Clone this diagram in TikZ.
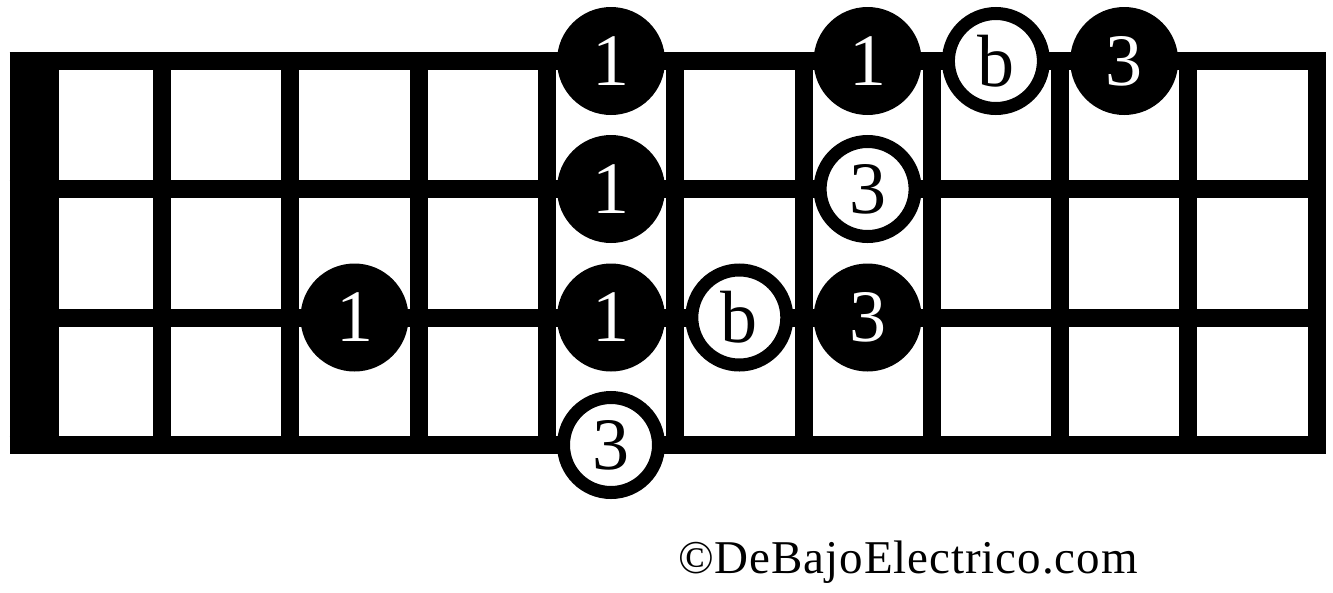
\documentclass[tikz,border=0pt]{standalone}
\usepackage{fontspec}
\setmainfont{Liberation Serif}
\newfontfamily\copyfont[LetterSpace=2]{Liberation Serif}
\begin{document}
\begin{tikzpicture}[x=1pt,y=-1pt,
  fdot/.style={circle,fill=black,inner sep=0pt,minimum size=108pt,text=white,font=\fontsize{74}{80}\selectfont},
  odot/.style={circle,draw=black,line width=13pt,fill=white,inner sep=0pt,minimum size=95pt,text=black,font=\fontsize{74}{80}\selectfont},
  gridline/.style={line width=18pt}]
\useasboundingbox (0,0) rectangle (1333,592);
% strings
\foreach \y in {61,189,317.5,445} \draw[gridline] (9.5,\y) -- (1325.7,\y);
% frets
\foreach \k in {1,...,10} \draw[gridline] ({33.7+128.3*\k},52) -- ({33.7+128.3*\k},454);
% nut
\fill (9.5,52) rectangle (59,454);
% dots
\node[fdot] (a1) at (611,61) {1};
\node[fdot] (a2) at (867.6,61) {1};
\node[odot] (a3) at (995.9,61) {b};
\node[fdot] (a4) at (1124.2,61) {3};
\node[fdot] (b1) at (611,189) {1};
\node[odot] (b2) at (867.6,189) {3};
\node[fdot] (c1) at (354.5,317.5) {1};
\node[fdot] (c2) at (611,317.5) {1};
\node[odot] (c3) at (739.3,317.5) {b};
\node[fdot] (c4) at (867.6,317.5) {3};
\node[odot] (d1) at (611,445) {3};
% copyright
\node[anchor=base west,inner sep=0pt,font=\copyfont\fontsize{47}{52}\selectfont] (copy) at (678,573) {©DeBajoElectrico.com};
\end{tikzpicture}
\end{document}
